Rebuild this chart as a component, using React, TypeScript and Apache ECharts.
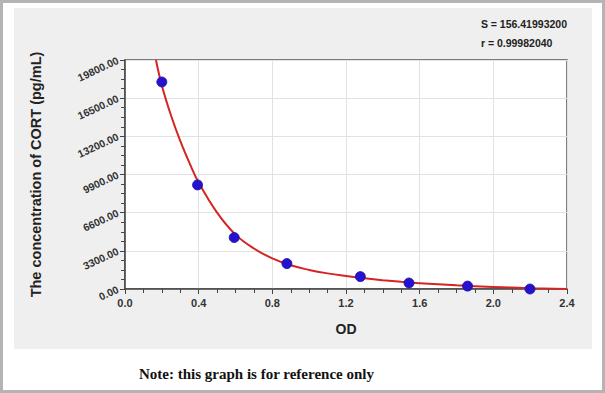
import React, { useEffect, useRef } from "react";
import * as echarts from "echarts";

const odValues = [0.2, 0.394, 0.593, 0.879, 1.278, 1.542, 1.86, 2.199];
const concValues = [17900, 9000, 4450, 2200, 1070, 520, 250, 0];

const curveOd = [0.168, 0.2, 0.25, 0.3, 0.35, 0.4, 0.5, 0.6, 0.7, 0.8, 0.9, 1.0, 1.1, 1.2, 1.3, 1.4, 1.5, 1.6, 1.8, 2.0, 2.2, 2.4];
const curveConc = [19800, 17600, 15000, 12800, 10900, 9200, 6600, 4700, 3500, 2650, 2050, 1650, 1350, 1120, 920, 760, 620, 500, 320, 180, 70, 0];

const statLines = ["S = 156.41993200", "r = 0.99982040"];
const noteText = "Note: this graph is for reference only";
const xName = "OD";
const yName = "The concentration of CORT (pg/mL)";

export default function App() {
  const ref = useRef<HTMLDivElement>(null);
  useEffect(() => {
    if (!ref.current) return;
    const chart = echarts.init(ref.current, null, { renderer: "svg" });
    const font = "Liberation Sans, Arial, sans-serif";
    chart.setOption({
      animation: false,
      backgroundColor: "#ffffff",
      graphic: [
        {
          type: "rect",
          z: -10,
          silent: true,
          shape: { x: 1.5, y: 1.5, width: 602, height: 390 },
          style: { fill: "#ffffff", stroke: "#b4b4b4", lineWidth: 3 },
        },
        {
          type: "rect",
          z: -9,
          silent: true,
          shape: { x: 14, y: 8, width: 578, height: 341 },
          style: { fill: "#efefef" },
        },
        {
          type: "text",
          right: 38,
          top: 14,
          style: {
            text: statLines.join("\n"),
            font: "bold 10.5px " + font,
            fill: "#222",
            align: "right",
            lineHeight: 19,
          },
        },
        {
          type: "text",
          left: 139,
          top: 366,
          style: {
            text: noteText,
            font: "bold 15px 'Liberation Serif', 'Times New Roman', serif",
            fill: "#111",
          },
        },
      ],
      grid: {
        left: 125,
        top: 60,
        right: 38,
        bottom: 104,
        show: true,
        backgroundColor: "#ffffff",
        borderColor: "#555",
        borderWidth: 1.5,
      },
      xAxis: {
        type: "value",
        min: 0,
        max: 2.4,
        interval: 0.4,
        name: xName,
        nameLocation: "middle",
        nameGap: 33,
        nameTextStyle: { fontFamily: font, fontSize: 14, fontWeight: "bold", color: "#222" },
        axisLine: { lineStyle: { color: "#444", width: 1.5 } },
        axisTick: { show: true, length: 5, lineStyle: { color: "#444" } },
        minorTick: { show: true, splitNumber: 4, length: 4, lineStyle: { color: "#444" } },
        splitLine: { show: true, lineStyle: { color: "#e2e2e2", width: 1 } },
        axisLabel: {
          fontFamily: font,
          fontSize: 11,
          fontWeight: "bold",
          color: "#333",
          margin: 8,
          formatter: (v: number) => v.toFixed(1),
        },
      },
      yAxis: {
        type: "value",
        min: 0,
        max: 19800,
        interval: 3300,
        name: yName,
        nameLocation: "middle",
        nameGap: 82,
        nameTextStyle: { fontFamily: font, fontSize: 14.5, fontWeight: "bold", color: "#222" },
        axisLine: { show: true, lineStyle: { color: "#444", width: 1.5 } },
        axisTick: { show: true, length: 5, lineStyle: { color: "#444" } },
        minorTick: { show: true, splitNumber: 4, length: 4, lineStyle: { color: "#444" } },
        splitLine: { show: true, lineStyle: { color: "#e2e2e2", width: 1 } },
        axisLabel: {
          fontFamily: font,
          fontSize: 10.5,
          fontWeight: "bold",
          color: "#333",
          rotate: 25,
          margin: 7,
          formatter: (v: number) => v.toFixed(2),
        },
      },
      series: [
        {
          type: "line",
          data: curveOd.map((x, i) => [x, curveConc[i]]),
          smooth: 0.4,
          showSymbol: false,
          symbol: "none",
          lineStyle: { color: "#d42424", width: 2 },
          z: 2,
        },
        {
          type: "scatter",
          data: odValues.map((x, i) => [x, concValues[i]]),
          symbolSize: 10,
          itemStyle: { color: "#2412cf", borderColor: "#1c0e9c", borderWidth: 0.8, opacity: 1 },
          z: 3,
        },
      ],
    });
    return () => chart.dispose();
  }, []);
  return (
    <div
      ref={ref}
      style={{ position: "fixed", left: 0, top: 0, width: 605, height: 393 }}
    />
  );
}
